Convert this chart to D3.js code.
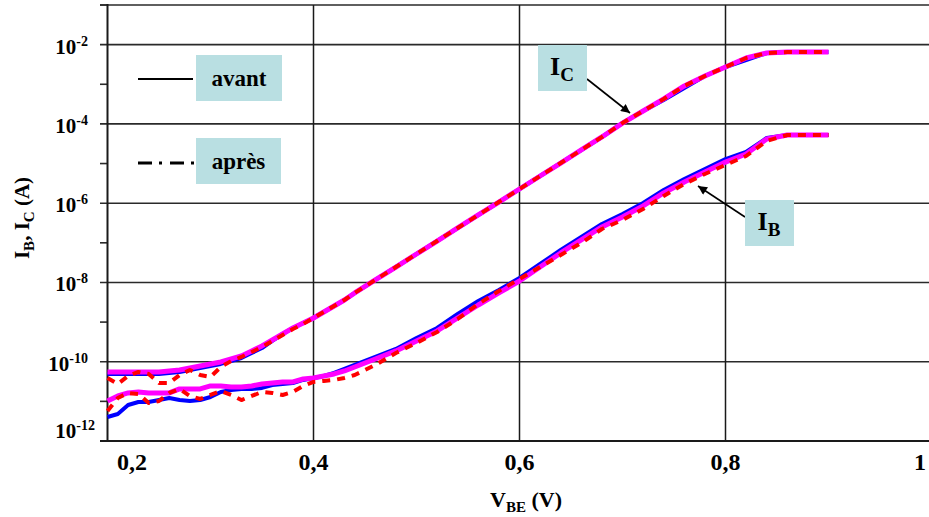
<!DOCTYPE html>
<html><head><meta charset="utf-8">
<script src="https://cdn.jsdelivr.net/npm/d3@7"></script>
<style>
body{margin:0;background:#fff}
svg{display:block}
text{font-family:"Liberation Serif","Times New Roman",serif;font-weight:bold;fill:#000}
</style>
</head><body>
<svg id="chart" width="929" height="517"></svg>
<script>
// ---- data ----
const vbe = [0.20,0.21,0.22,0.23,0.24,0.25,0.26,0.27,0.28,0.29,0.30,0.31,0.32,0.33,0.34,0.35,0.36,0.37,0.38,0.39,0.40,0.41,0.42,0.43,0.44,
  0.46,0.48,0.50,0.52,0.54,0.56,0.58,0.60,0.62,0.64,0.66,0.68,0.70,0.72,0.74,0.76,0.78,0.80,0.82,0.84,0.86,0.88,0.90];

const icBlue = [4.91e-11,4.91e-11,4.91e-11,4.91e-11,4.91e-11,4.91e-11,5.21e-11,5.52e-11,6.19e-11,6.97e-11,7.82e-11,8.79e-11,1.04e-10,1.24e-10,1.66e-10,2.22e-10,3.34e-10,5.01e-10,7.11e-10,9.51e-10,1.27e-9,1.80e-9,2.55e-9,3.61e-9,5.43e-9,
  1.16e-8,2.45e-8,5.22e-8,1.11e-7,2.37e-7,5.04e-7,1.07e-6,2.28e-6,4.85e-6,1.03e-5,2.20e-5,4.68e-5,1.05e-4,2.12e-4,4.01e-4,8.05e-4,1.62e-3,2.73e-3,4.10e-3,6.15e-3,6.52e-3,6.52e-3,6.52e-3];
const icMagenta = [5.52e-11,5.52e-11,5.52e-11,5.52e-11,5.52e-11,5.52e-11,5.85e-11,6.19e-11,6.97e-11,7.82e-11,8.79e-11,9.86e-11,1.17e-10,1.40e-10,1.87e-10,2.50e-10,3.54e-10,5.01e-10,7.11e-10,9.51e-10,1.27e-9,1.80e-9,2.55e-9,3.61e-9,5.43e-9,
  1.16e-8,2.45e-8,5.22e-8,1.11e-7,2.37e-7,5.04e-7,1.07e-6,2.28e-6,4.85e-6,1.03e-5,2.20e-5,4.68e-5,1.05e-4,2.12e-4,4.26e-4,9.06e-4,1.62e-3,2.73e-3,4.60e-3,6.15e-3,6.52e-3,6.52e-3,6.52e-3];
const icRed = [3.89e-11,2.75e-11,4.38e-11,5.52e-11,4.91e-11,2.91e-11,2.91e-11,4.63e-11,6.19e-11,4.63e-11,4.13e-11,7.38e-11,1.04e-10,1.32e-10,1.76e-10,2.35e-10,3.34e-10,4.73e-10,6.70e-10,8.97e-10,1.27e-9,1.80e-9,2.55e-9,3.61e-9,5.43e-9,
  1.16e-8,2.45e-8,5.22e-8,1.11e-7,2.37e-7,5.04e-7,1.07e-6,2.28e-6,4.85e-6,1.03e-5,2.20e-5,4.68e-5,1.05e-4,2.12e-4,4.26e-4,9.06e-4,1.62e-3,2.73e-3,4.60e-3,6.15e-3,6.52e-3,6.52e-3,6.52e-3];

const ibBlue = [4.04e-12,4.81e-12,8.11e-12,9.66e-12,9.66e-12,1.08e-11,1.22e-11,1.08e-11,1.02e-11,1.08e-11,1.29e-11,1.73e-11,1.94e-11,2.06e-11,2.06e-11,2.18e-11,2.59e-11,2.75e-11,2.91e-11,3.47e-11,3.90e-11,4.38e-11,5.21e-11,6.56e-11,8.28e-11,
  1.32e-10,2.10e-10,3.97e-10,7.11e-10,1.60e-9,3.41e-9,6.46e-9,1.30e-8,2.92e-8,6.59e-8,1.40e-7,2.99e-7,5.35e-7,1.01e-6,2.15e-6,4.08e-6,7.29e-6,1.30e-5,1.96e-5,4.42e-5,5.25e-5,5.25e-5,5.25e-5];
const ibMagenta = [1.02e-11,1.37e-11,1.63e-11,1.73e-11,1.63e-11,1.63e-11,1.63e-11,2.06e-11,2.06e-11,2.06e-11,2.45e-11,2.45e-11,2.31e-11,2.31e-11,2.45e-11,2.75e-11,2.91e-11,3.09e-11,3.09e-11,3.67e-11,3.90e-11,4.38e-11,4.91e-11,5.85e-11,7.38e-11,
  1.17e-10,1.87e-10,3.34e-10,5.97e-10,1.27e-9,2.70e-9,5.43e-9,1.09e-8,2.46e-8,5.55e-8,1.18e-7,2.51e-7,4.49e-7,8.51e-7,1.81e-6,3.43e-6,6.12e-6,1.09e-5,1.74e-5,4.17e-5,5.25e-5,5.25e-5,5.25e-5];
const ibRed = [5.73e-12,1.22e-11,1.63e-11,1.54e-11,9.12e-12,1.02e-11,1.63e-11,2.06e-11,1.37e-11,1.15e-11,1.45e-11,1.83e-11,1.45e-11,1.08e-11,1.37e-11,1.73e-11,1.63e-11,1.45e-11,1.73e-11,2.45e-11,3.09e-11,3.27e-11,3.47e-11,3.90e-11,4.63e-11,
  8.28e-11,1.66e-10,2.97e-10,5.64e-10,1.20e-9,2.86e-9,6.10e-9,1.22e-8,2.46e-8,4.93e-8,9.91e-8,2.23e-7,3.77e-7,7.14e-7,1.52e-6,3.05e-6,5.46e-6,9.20e-6,1.55e-5,3.71e-5,5.25e-5,5.25e-5,5.25e-5];

const xTicks = [0.2, 0.4, 0.6, 0.8, 1.0];
const xTickLabels = ["0,2", "0,4", "0,6", "0,8", "1"];
const yMajor = [1e-2, 1e-4, 1e-6, 1e-8, 1e-10, 1e-12];
const yExpLabels = ["-2", "-4", "-6", "-8", "-10", "-12"];
const yMinor = [1e-1, 1e-3, 1e-5, 1e-7, 1e-9, 1e-11];
const legendLabels = ["avant", "après"];

// ---- drawing ----
const svg = d3.select("#chart");
const W = 929, H = 517;
svg.append("rect").attr("width", W).attr("height", H).attr("fill", "#fff");

const x = d3.scaleLinear().domain([0.2, 1.0]).range([107.5, 931.5]);
const y = d3.scaleLog().domain([1e-12, 1e-1]).range([441, 5]);

const grid = svg.append("g");
grid.selectAll("line.h").data(yMajor.filter(d => d > 1e-12).concat([1e-1]))
  .enter().append("line")
  .attr("x1", 100).attr("x2", W)
  .attr("y1", d => y(d)).attr("y2", d => y(d))
  .attr("stroke", "#2a2a2a").attr("stroke-width", 1.6);
grid.selectAll("line.v").data(xTicks.filter(d => d > 0.2 && d < 1))
  .enter().append("line")
  .attr("x1", d => x(d)).attr("x2", d => x(d))
  .attr("y1", 5).attr("y2", 441)
  .attr("stroke", "#1a1a1a").attr("stroke-width", 1.5);
grid.selectAll("line.m").data(yMinor)
  .enter().append("line")
  .attr("x1", 100).attr("x2", 107.5)
  .attr("y1", d => y(d)).attr("y2", d => y(d))
  .attr("stroke", "#2a2a2a").attr("stroke-width", 1.6);
svg.append("line").attr("x1", 107.5).attr("x2", 107.5).attr("y1", 4).attr("y2", 441.5)
  .attr("stroke", "#1a1a1a").attr("stroke-width", 2);
svg.append("line").attr("x1", 100).attr("x2", W).attr("y1", 441).attr("y2", 441)
  .attr("stroke", "#1a1a1a").attr("stroke-width", 2);

// y tick labels
yMajor.forEach((v, i) => {
  const last = v === 1e-12;
  const t = svg.append("text")
    .attr("x", last ? 95 : 88)
    .attr("y", last ? 438 : y(v) + 9)
    .attr("text-anchor", "end")
    .attr("font-size", 21);
  t.append("tspan").text("10");
  t.append("tspan").attr("dy", -8).attr("font-size", 14).text(yExpLabels[i]);
});

// x tick labels
xTicks.forEach((v, i) => {
  const first = i === 0, last = i === xTicks.length - 1;
  svg.append("text")
    .attr("x", first ? x(v) + 9.5 : last ? 926 : x(v))
    .attr("y", 470)
    .attr("text-anchor", first ? "start" : last ? "end" : "middle")
    .attr("font-size", 24)
    .text(xTickLabels[i]);
});

// axis titles
const xt = svg.append("text").attr("x", 526).attr("y", 507).attr("text-anchor", "middle").attr("font-size", 22);
xt.append("tspan").text("V");
xt.append("tspan").attr("dy", 5).attr("font-size", 15).text("BE");
xt.append("tspan").attr("dy", -5).text(" (V)");

const yt = svg.append("text").attr("transform", "translate(29,218) rotate(-90)")
  .attr("text-anchor", "middle").attr("font-size", 21);
yt.append("tspan").text("I");
yt.append("tspan").attr("dy", 5).attr("font-size", 15).text("B");
yt.append("tspan").attr("dy", -5).text(", I");
yt.append("tspan").attr("dy", 5).attr("font-size", 15).text("C");
yt.append("tspan").attr("dy", -5).text(" (A)");

// series
const line = d3.line().x((d, i) => x(vbe[i])).y(d => y(d));
const series = [
  {data: icBlue, color: "#0000ff", w: 4, dash: null},
  {data: ibBlue, color: "#0000ff", w: 4, dash: null},
  {data: icMagenta, color: "#ff00ff", w: 5, dash: null},
  {data: ibMagenta, color: "#ff00ff", w: 5, dash: null},
  {data: icRed, color: "#ff0000", w: 4, dash: "8,7"},
  {data: ibRed, color: "#ff0000", w: 4, dash: "8,7"}
];
series.forEach(s => {
  svg.append("path").datum(s.data).attr("d", line)
    .attr("fill", "none").attr("stroke", s.color).attr("stroke-width", s.w)
    .attr("stroke-linejoin", "round")
    .attr("stroke-dasharray", s.dash);
});

// legend
const boxFill = "#b9dfe2";
svg.append("line").attr("x1", 138).attr("x2", 193).attr("y1", 79).attr("y2", 79)
  .attr("stroke", "#000").attr("stroke-width", 2);
svg.append("line").attr("x1", 138).attr("x2", 194).attr("y1", 163).attr("y2", 163)
  .attr("stroke", "#000").attr("stroke-width", 3).attr("stroke-dasharray", "14,7,3,8");
[[196, 55, 86, 46], [196, 138, 85, 46]].forEach((b, i) => {
  svg.append("rect").attr("x", b[0]).attr("y", b[1]).attr("width", b[2]).attr("height", b[3]).attr("fill", boxFill);
  svg.append("text").attr("x", b[0] + b[2] / 2).attr("y", b[1] + 31)
    .attr("text-anchor", "middle").attr("font-size", 23).text(legendLabels[i]);
});

// annotations
const defs = svg.append("defs");
defs.append("marker").attr("id", "ah").attr("viewBox", "0 0 10 10").attr("refX", 10).attr("refY", 5)
  .attr("markerWidth", 12).attr("markerHeight", 9).attr("markerUnits", "userSpaceOnUse").attr("orient", "auto")
  .append("path").attr("d", "M0,0 L10,5 L0,10 Z").attr("fill", "#000");

function annot(bx, by, sub, x1, y1, x2, y2) {
  svg.append("line").attr("x1", x1).attr("y1", y1).attr("x2", x2).attr("y2", y2)
    .attr("stroke", "#000").attr("stroke-width", 1.6).attr("marker-end", "url(#ah)");
  svg.append("rect").attr("x", bx).attr("y", by).attr("width", 49).attr("height", 46).attr("fill", boxFill);
  const t = svg.append("text").attr("x", bx + 24).attr("y", by + 30).attr("text-anchor", "middle").attr("font-size", 26);
  t.append("tspan").text("I");
  t.append("tspan").attr("dy", 6).attr("font-size", 19).text(sub);
}
annot(538, 45, "C", 587, 79, 630, 113);
annot(745, 200, "B", 745, 217, 698, 186);
</script>
</body></html>
